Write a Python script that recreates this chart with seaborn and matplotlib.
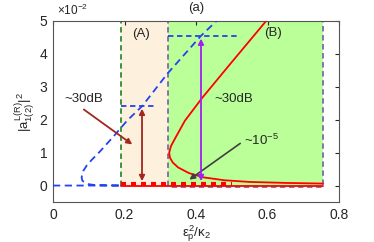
import matplotlib
matplotlib.use("Agg")
import matplotlib.pyplot as plt
import seaborn as sns
import numpy as np
import pandas as pd

# ---- data (units of 1e-2) ----
blue_x = [0.0, 0.19, 0.12, 0.10, 0.09, 0.082, 0.08, 0.085, 0.095, 0.11, 0.13, 0.17, 0.207, 0.25, 0.32, 0.414, 0.462]
blue_y = [0.0, 0.0, 0.01, 0.04, 0.08, 0.15, 0.25, 0.45, 0.62, 0.80, 1.02, 1.50, 1.97, 2.42, 3.40, 4.55, 5.05]

red_low_x = [0.19, 0.755]
red_low_y = [0.0, 0.0]
red_s_x = [0.755, 0.65, 0.55, 0.48, 0.42, 0.38, 0.35, 0.335, 0.327, 0.325, 0.33, 0.345, 0.369, 0.417, 0.50, 0.600]
red_s_y = [0.06, 0.08, 0.11, 0.16, 0.25, 0.38, 0.55, 0.70, 0.85, 1.00, 1.20, 1.50, 1.97, 2.66, 3.75, 5.05]
red_sq_x = [0.19, 0.50]
red_sq_y = [0.04, 0.04]

regionA = (0.19, 0.322)
regionB = (0.322, 0.755)

hline1 = (0.19, 0.29, 2.42)
hline2 = (0.322, 0.52, 4.55)

xticks = [0, 0.2, 0.4, 0.6, 0.8]
xticklabels = ["0", "0.2", "0.4", "0.6", "0.8"]
yticks = [0, 1, 2, 3, 4, 5]

sns.set_style("white")
plt.rcParams['font.family'] = ['Liberation Sans', 'DejaVu Sans']
plt.rcParams['mathtext.fontset'] = 'custom'
plt.rcParams['mathtext.rm'] = 'Liberation Sans'
plt.rcParams['mathtext.it'] = 'Liberation Sans'

fig = plt.figure(figsize=(3.74, 2.42), dpi=100)
ax = fig.add_axes([53/374, 1-202/242, (339-53)/374, (202-21)/242])

# regions
ax.fill_between(regionA, [0, 0], [5, 5], color="#fdf1de", lw=0, zorder=0)
ax.fill_between(regionB, [0, 0], [5, 5], color="#bbff99", lw=0, zorder=0)
ax.plot([regionA[0], regionA[0], regionA[1]], [0, 5, 5], ls=(0, (3, 2)), color="#2e8b2e", lw=1.3, zorder=1)
ax.plot([regionB[0], regionB[0], regionB[1], regionB[1], regionB[0]], [0, 5, 5, -0.05, -0.05],
        ls=(0, (3, 2)), color="#7a6aa8", lw=1.3, zorder=1)

# curves
sns.lineplot(x=blue_x, y=blue_y, sort=False, estimator=None, ax=ax, color="#2244ee",
             lw=1.3, linestyle=(0, (4, 2.5)), zorder=3)
sns.lineplot(x=red_low_x, y=red_low_y, sort=False, estimator=None, ax=ax, color="red", lw=1.3, zorder=3)
sns.lineplot(x=red_s_x, y=red_s_y, sort=False, estimator=None, ax=ax, color="red", lw=1.3, zorder=3)
sns.lineplot(x=red_sq_x, y=red_sq_y, sort=False, estimator=None, ax=ax, color="red", lw=3,
             linestyle=(0, (1.2, 1.2)), zorder=3)

# horizontal dashed guide lines
for x0, x1, yv in [hline1, hline2]:
    ax.plot([x0, x1], [yv, yv], ls=(0, (3, 2)), color="#2244ee", lw=1.3, zorder=3)

# vertical double arrows
ax.annotate("", xy=(0.249, 2.42), xytext=(0.249, 0.05),
            arrowprops=dict(arrowstyle="<|-|>", color="#a0281e", lw=1.3, mutation_scale=8), zorder=4)
ax.annotate("", xy=(0.414, 4.55), xytext=(0.414, 0.05),
            arrowprops=dict(arrowstyle="<|-|>", color="#a020f0", lw=1.3, mutation_scale=8), zorder=4)

# annotation arrows
ax.annotate("", xy=(0.228, 1.2), xytext=(0.08, 2.36),
            arrowprops=dict(arrowstyle="-|>", color="#a0281e", lw=1.3, mutation_scale=8))
ax.text(0.085, 2.62, "~30dB", fontsize=9.5, ha="center", va="center")
ax.text(0.505, 2.62, "~30dB", fontsize=9.5, ha="center", va="center")
ax.annotate("", xy=(0.375, 0.13), xytext=(0.53, 1.33),
            arrowprops=dict(arrowstyle="-|>", color="#404040", lw=1.2, mutation_scale=8))
ax.text(0.535, 1.36, "~10$^{-5}$", fontsize=9.5, ha="left", va="center")
ax.text(0.245, 4.62, "(A)", fontsize=9.5, ha="center", va="center")
ax.text(0.615, 4.65, "(B)", fontsize=9.5, ha="center", va="center")

ax.set_xlim(0, 0.8)
ax.set_ylim(-0.5, 5)
ax.set_xticks(xticks)
ax.set_xticklabels(xticklabels)
ax.set_yticks(yticks)
ax.tick_params(direction="in", length=3, labelsize=10, top=True, right=True, pad=4)
for s in ax.spines.values():
    s.set_visible(True)
    s.set_color("#555555")
    s.set_linewidth(0.8)

ax.set_xlabel(r"$\epsilon_p^2/\kappa_2$", fontsize=9.5, labelpad=1)
ax.set_ylabel(r"$|a^{L(R)}_{1(2)}|^2$", fontsize=9.5, labelpad=2)
fig.text(57/374, 1-10/242, r"$\times10^{-2}$", fontsize=8.5, ha="left", va="center")
fig.text(196/374, 1-8/242, "(a)", fontsize=9.5, ha="center", va="center")

fig.savefig("out.png", dpi=100)
